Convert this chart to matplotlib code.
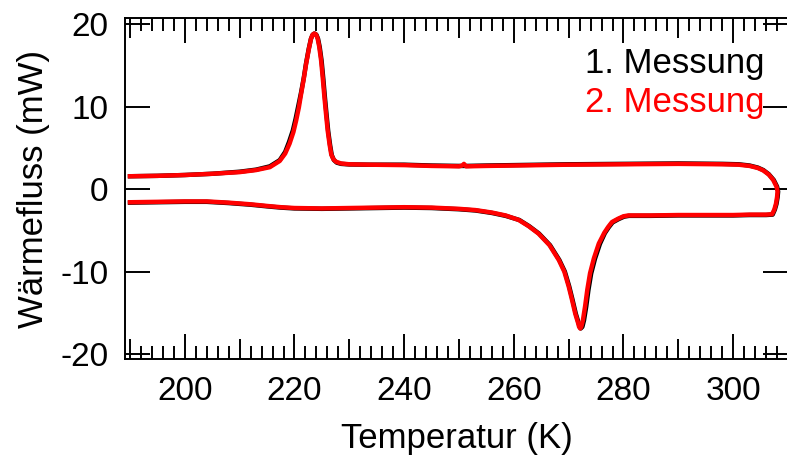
import matplotlib
matplotlib.use("Agg")
import matplotlib.pyplot as plt
from matplotlib.ticker import MultipleLocator, FuncFormatter

plt.rcParams['font.family'] = ['Liberation Sans', 'DejaVu Sans']
plt.rcParams['axes.unicode_minus'] = False

# Measurement 2 (red): temperature (K) and heat flow (mW), one loop
temp_2 = [190, 195, 200, 205, 210, 213, 215.5, 217.3, 218.3, 219.1, 219.8, 220.3,
          220.8, 221.2, 221.7, 222.1, 222.6, 223.0, 223.3, 223.6, 223.9, 224.2,
          224.5, 224.85, 225.15, 225.45, 225.75, 226.05, 226.4, 226.7, 227.1,
          227.6, 228.5, 230, 233.6, 240, 245, 250, 250.6, 250.9, 251.3, 255,
          260, 270, 280, 290, 298, 301, 303, 304.5, 305.5, 306.5, 307.3, 307.9,
          308.1, 308.0, 307.8, 307.5, 307.1, 306, 303, 300, 295, 290, 285, 282,
          280.9, 280, 279, 277.9, 277.2, 276.5, 275.5, 274.6, 273.9, 273.4, 273.0,
          272.6, 272.3, 272.1, 271.9, 271.7, 271.2, 270.6, 270.0, 269.2, 268.2,
          266.5, 264.5, 262.7, 260.9, 258.5, 256, 253, 250, 245, 240, 235, 230,
          225, 220, 217.5, 215, 212, 208, 204, 200, 195, 190]
flow_2 = [1.55, 1.6, 1.7, 1.85, 2.05, 2.3, 2.65, 3.4, 4.3, 5.5, 6.9, 8.3,
          9.9, 11.5, 13.4, 15.1, 16.9, 18.2, 18.7, 18.85, 18.75, 18.3,
          17.3, 15.6, 13.5, 11.2, 9.1, 7.1, 5.4, 4.2, 3.6,
          3.3, 3.1, 3.0, 2.95, 2.9, 2.8, 2.75, 2.85, 3.05, 2.75, 2.8,
          2.85, 2.95, 3.0, 3.05, 3.0, 2.95, 2.8, 2.55, 2.25, 1.75, 1.1, 0.3,
          -0.3, -1.0, -1.8, -2.5, -3.05, -3.1, -3.1, -3.15, -3.15, -3.15, -3.2, -3.2,
          -3.2, -3.3, -3.6, -4.0, -4.6, -5.3, -6.6, -8.4, -10.2, -12.2, -14.2,
          -15.9, -16.7, -16.9, -16.7, -16.2, -15.1, -13.4, -11.8, -10.0, -8.6,
          -6.8, -5.4, -4.5, -3.75, -3.2, -2.85, -2.55, -2.4, -2.25, -2.2, -2.25, -2.3,
          -2.35, -2.3, -2.2, -2.05, -1.85, -1.65, -1.5, -1.5, -1.55, -1.6]

# Measurement 1 (black)
temp_1 = [190, 195, 200, 205, 210, 213, 215.5, 217.3, 218.3, 219.0, 219.7, 220.2,
          220.7, 221.2, 221.7, 222.1, 222.6, 223.0, 223.3, 223.65, 224.0, 224.3,
          224.6, 224.95, 225.25, 225.55, 225.85, 226.15, 226.5, 226.8, 227.2,
          227.7, 228.5, 230, 233.6, 240, 245, 250, 250.6, 250.9, 251.3, 255,
          260, 270, 280, 290, 298, 301, 303, 304.5, 305.5, 306.5, 307.4, 308.0,
          308.2, 308.1, 307.9, 307.6, 307.2, 306, 303, 300, 295, 290, 285, 282,
          281.0, 280.1, 279.1, 278.0, 277.3, 276.6, 275.7, 274.8, 274.1, 273.6, 273.2,
          272.8, 272.5, 272.2, 272.0, 271.8, 271.3, 270.7, 270.1, 269.3, 268.3,
          266.6, 264.6, 262.8, 261.0, 258.5, 256, 253, 250, 245, 240, 235, 230,
          225, 220, 217.5, 215, 212, 208, 204, 200, 195, 190]
flow_1 = [1.55, 1.6, 1.7, 1.85, 2.1, 2.35, 2.75, 3.5, 4.5, 5.7, 7.1, 8.5,
          10.1, 11.7, 13.5, 15.2, 17.0, 18.2, 18.7, 18.85, 18.7, 18.2,
          17.2, 15.5, 13.4, 11.1, 9.0, 7.0, 5.3, 4.1, 3.5,
          3.2, 3.05, 2.98, 2.95, 2.95, 2.85, 2.8, 2.8, 2.8, 2.8, 2.85,
          2.9, 3.0, 3.05, 3.1, 3.05, 3.0, 2.85, 2.6, 2.3, 1.8, 1.1, 0.3,
          -0.3, -1.0, -1.8, -2.5, -3.1, -3.15, -3.15, -3.2, -3.2, -3.2, -3.25, -3.25,
          -3.25, -3.35, -3.65, -4.05, -4.65, -5.35, -6.65, -8.45, -10.25, -12.25, -14.25,
          -15.9, -16.7, -16.9, -16.7, -16.2, -15.1, -13.4, -11.8, -10.0, -8.6,
          -6.8, -5.4, -4.5, -3.75, -3.25, -2.9, -2.6, -2.45, -2.3, -2.25, -2.3, -2.35,
          -2.4, -2.35, -2.25, -2.1, -1.9, -1.7, -1.55, -1.55, -1.6, -1.65]

series_labels = ["1. Messung", "2. Messung"]
series_colors = ["black", "red"]
x_ticks = [190, 200, 210, 220, 230, 240, 250, 260, 270, 280, 290, 300, 310]
y_ticks = [-20, -10, 0, 10, 20]

W, H = 787, 457
fig = plt.figure(figsize=(W / 100, H / 100), dpi=100)
ax = fig.add_axes([125 / W, 98 / H, 663 / W, 341 / H])

ax.plot(temp_1, flow_1, color=series_colors[0], lw=3.2, solid_joinstyle='round')
ax.plot(temp_2, flow_2, color=series_colors[1], lw=3.2, solid_joinstyle='round')

ax.set_xlim(189.09, 309.64)
ax.set_ylim(-20.6, 20.73)

for s in ax.spines.values():
    s.set_linewidth(1.4)

ax.set_xticks(x_ticks)
ax.xaxis.set_minor_locator(MultipleLocator(2))
ax.set_yticks(y_ticks)
ax.xaxis.set_major_formatter(FuncFormatter(lambda v, p: f"{int(v)}" if int(round(v)) % 20 == 0 else ""))
ax.yaxis.set_major_formatter(FuncFormatter(lambda v, p: f"{int(v)}"))

ax.tick_params(axis='x', which='major', direction='in', length=14.4, width=1.4,
               top=True, bottom=True, labelsize=24, pad=12)
ax.tick_params(axis='x', which='minor', direction='in', length=9.4, width=1.4,
               top=True, bottom=True)
ax.tick_params(axis='y', which='major', direction='in', length=18, width=1.4,
               left=True, right=True, labelsize=24, pad=12)

for loc, tick in zip(ax.get_xticks(), ax.xaxis.get_major_ticks()):
    if int(round(loc)) % 20 == 0:
        tick.tick1line.set_markersize(18)
        tick.tick2line.set_markersize(18)

ax.set_xlabel("Temperatur (K)", fontsize=25, labelpad=11)
ax.set_ylabel("Wärmefluss (mW)", fontsize=25, labelpad=7)

ax.text(0.694, 0.839, series_labels[0], color=series_colors[0], fontsize=25,
        transform=ax.transAxes, va='baseline', ha='left')
ax.text(0.694, 0.724, series_labels[1], color=series_colors[1], fontsize=25,
        transform=ax.transAxes, va='baseline', ha='left')

fig.savefig("out.png", dpi=100)
